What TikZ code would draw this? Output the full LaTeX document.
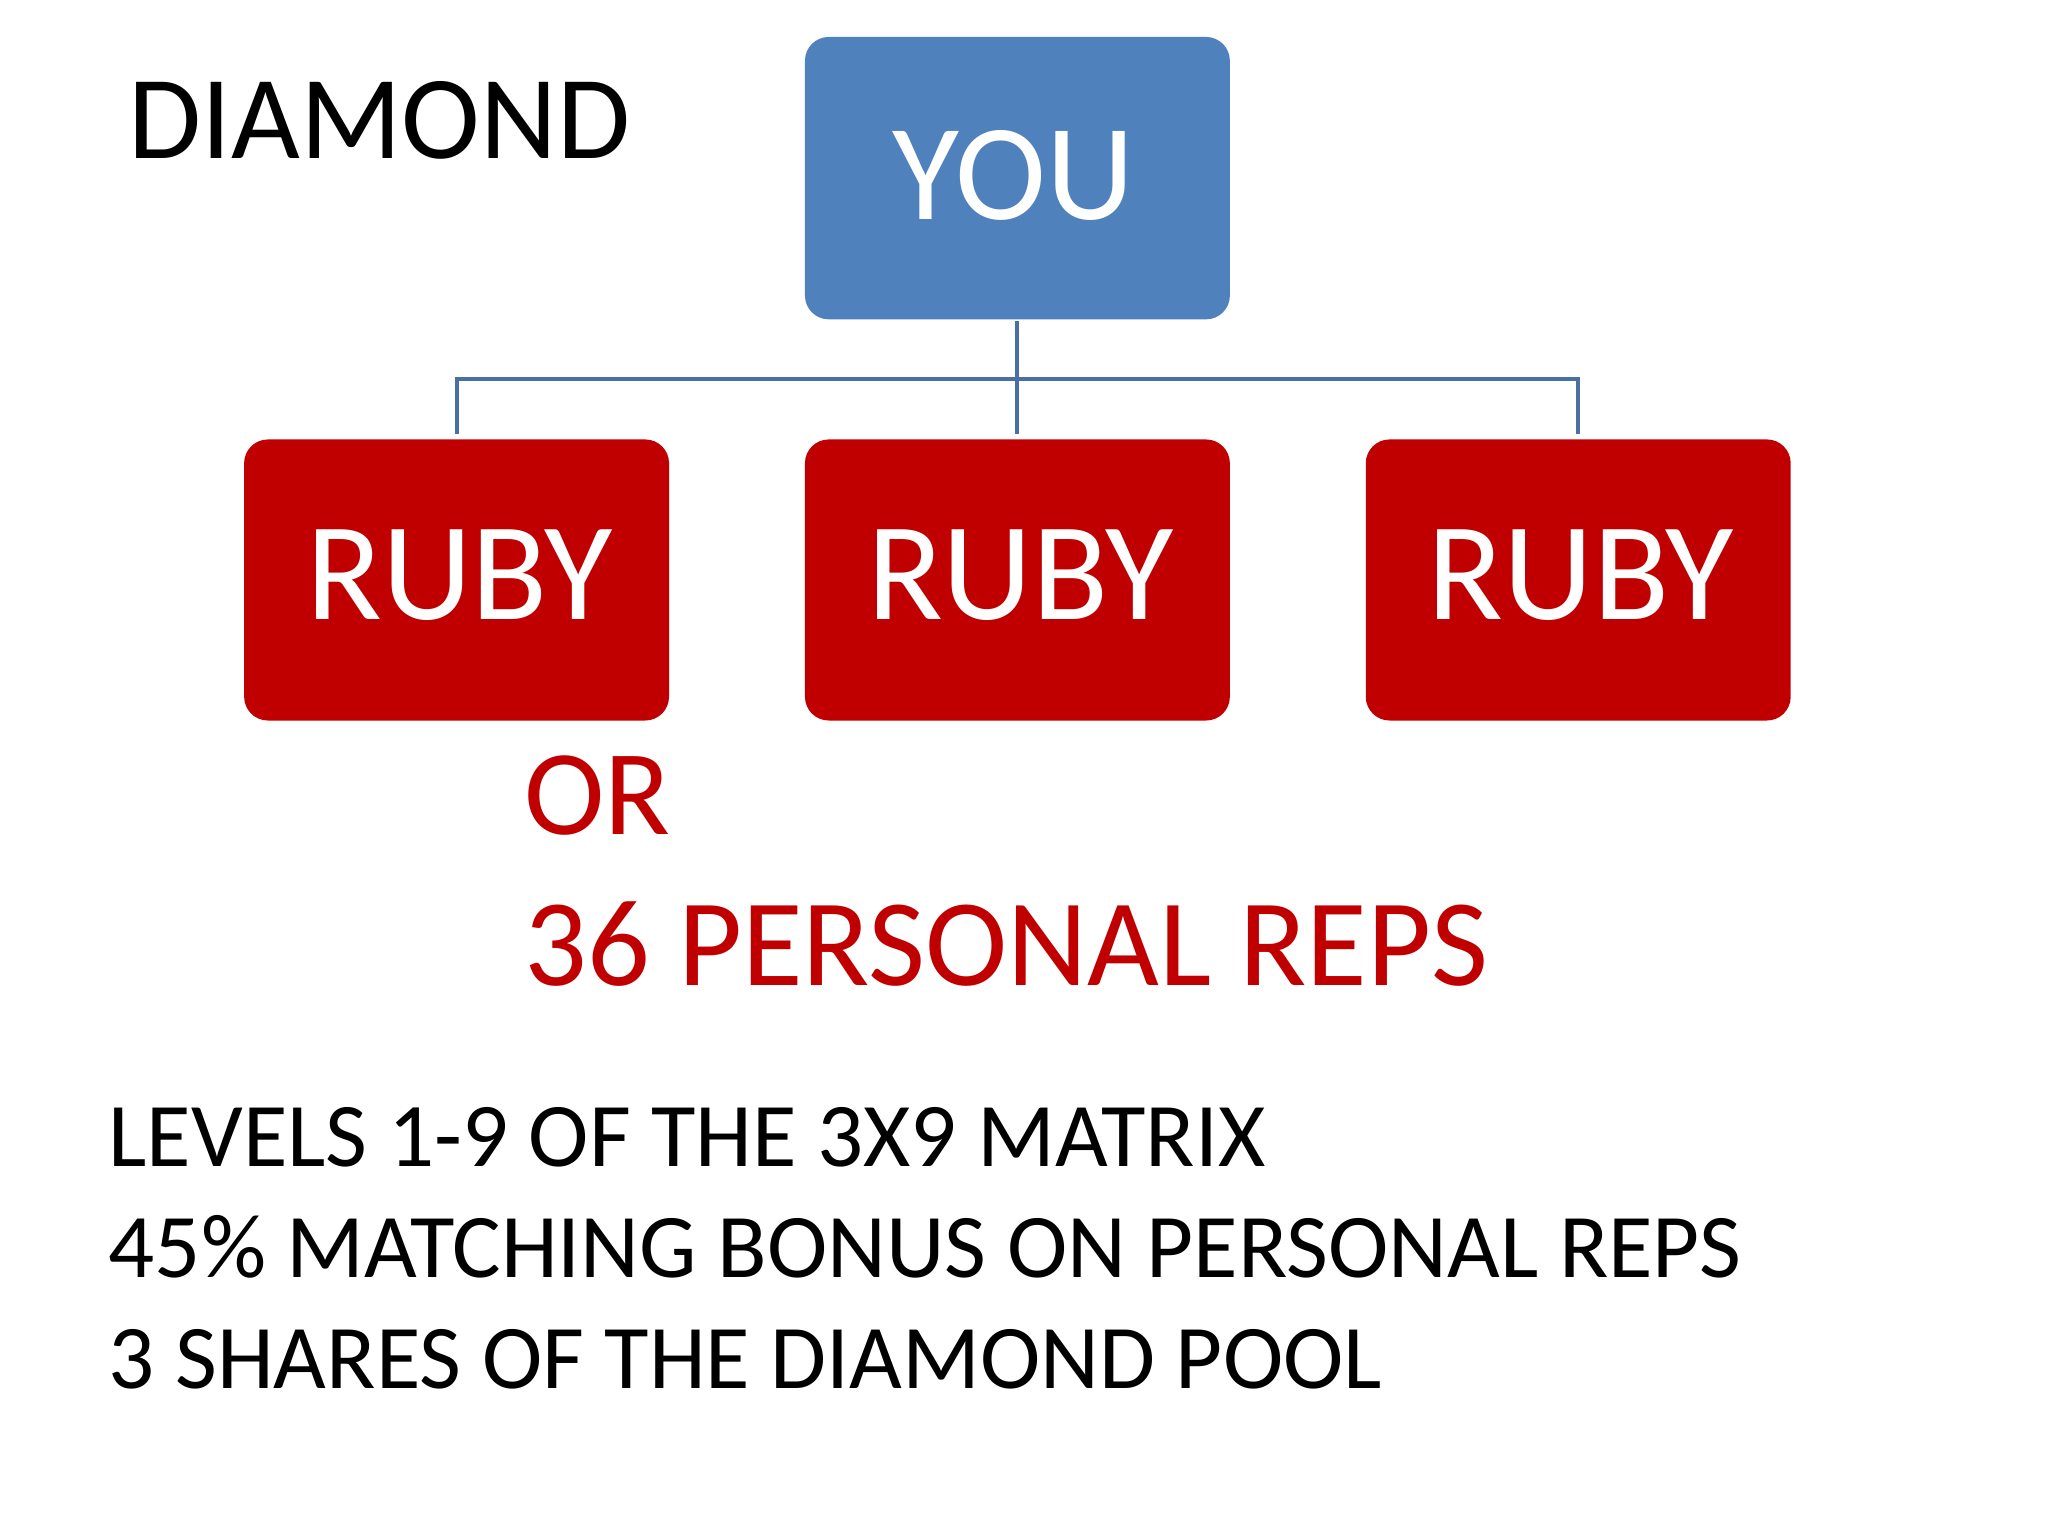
\documentclass[tikz,border=0pt]{standalone}
\usepackage{fontspec}
\setmainfont{Carlito}
\begin{document}
\begin{tikzpicture}[x=0.5pt,y=-0.5pt,
  conn/.style={draw=linecol,line width=1.5pt}]
\useasboundingbox (0,0) rectangle (1552,1164);
\definecolor{youblue}{HTML}{4F81BD}
\definecolor{rubyred}{HTML}{C00000}
\definecolor{linecol}{HTML}{4A6FA5}
\fill[youblue,rounded corners=9pt] (610,28) rectangle (932,242);
\node[text=white,font=\fontsize{52}{60}\selectfont] (you) at (768,133) {YOU};
\coordinate (youb) at (771,243);
\foreach \x/\n in {185/r1,610/r2,1035/r3}{
  \fill[rubyred,rounded corners=9pt] (\x,333) rectangle (\x+322,546);
  \node[text=white,font=\fontsize{53}{60}\selectfont] (\n) at (\x+163,436) {RUBY};
  \coordinate (\n t) at (\x+161,329);
}
\coordinate (j) at (771,287);
\draw[conn] (youb) -- (j);
\draw[conn] (r1t) |- (j) -| (r3t);
\draw[conn] (j) -- (r2t);
\node[anchor=base west,font=\fontsize{45}{50}\selectfont,inner sep=0pt] (dia) at (97,120) {DIAMOND};
\node[anchor=base west,font=\fontsize{46}{50}\selectfont,text=rubyred,inner sep=0pt] (or) at (397,632) {OR};
\node[anchor=base west,font=\fontsize{47}{50}\selectfont,text=rubyred,inner sep=0pt] (reps) at (397,747) {36 PERSONAL REPS};
\node[anchor=base west,font=\fontsize{34.5}{40}\selectfont,inner sep=0pt] (l1) at (82,884) {LEVELS 1-9 OF THE 3X9 MATRIX};
\node[anchor=base west,font=\fontsize{34.5}{40}\selectfont,inner sep=0pt] (l2) at (82,968) {45\% MATCHING BONUS ON PERSONAL REPS};
\node[anchor=base west,font=\fontsize{34.5}{40}\selectfont,inner sep=0pt] (l3) at (82,1052) {3 SHARES OF THE DIAMOND POOL};
\end{tikzpicture}
\end{document}
